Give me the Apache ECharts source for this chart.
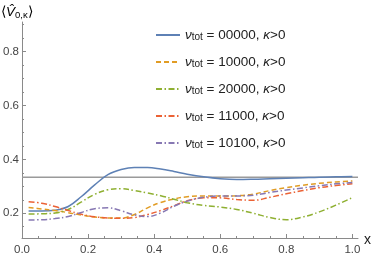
<!DOCTYPE html>
<html><head><meta charset="utf-8">
<script src="https://cdn.jsdelivr.net/npm/echarts@6/dist/echarts.min.js"></script>
<style>html,body{margin:0;padding:0;background:#fff}#c{width:374px;height:257px}</style>
</head><body><div id="c"></div>
<script>
const xValues = [0.02,0.06,0.10,0.14,0.18,0.22,0.26,0.30,0.34,0.38,0.42,0.46,0.50,0.55,0.60,0.65,0.70,0.75,0.80,0.85,0.90,0.95,1.00];
const v00000 = [0.208,0.208,0.211,0.225,0.262,0.305,0.343,0.362,0.370,0.370,0.364,0.355,0.345,0.335,0.328,0.325,0.326,0.328,0.330,0.332,0.334,0.335,0.336];
const v10000 = [0.221,0.216,0.210,0.202,0.193,0.186,0.182,0.182,0.195,0.220,0.240,0.253,0.261,0.264,0.264,0.265,0.271,0.284,0.295,0.304,0.311,0.316,0.320];
const v20000 = [0.197,0.198,0.201,0.214,0.242,0.270,0.287,0.291,0.284,0.275,0.265,0.252,0.239,0.229,0.223,0.214,0.200,0.184,0.176,0.186,0.205,0.230,0.258];
const v11000 = [0.243,0.237,0.225,0.210,0.196,0.187,0.182,0.181,0.184,0.195,0.210,0.228,0.246,0.257,0.257,0.251,0.248,0.259,0.272,0.284,0.295,0.303,0.309];
const v10100 = [0.175,0.176,0.180,0.188,0.203,0.217,0.220,0.209,0.194,0.188,0.201,0.226,0.245,0.259,0.264,0.264,0.267,0.277,0.286,0.294,0.302,0.309,0.314];
const seriesNames = ['00000','10000','20000','11000','10100'];
const seriesValues = [v00000, v10000, v20000, v11000, v10100];
const xTickLabels = [0, 0.2, 0.4, 0.6, 0.8, 1.0];
const xMinorTicks = [0.05,0.1,0.15,0.25,0.3,0.35,0.45,0.5,0.55,0.65,0.7,0.75,0.85,0.9,0.95];
const yTickLabels = [0.2, 0.4, 0.6, 0.8];
const yMinorTicks = [0.15,0.25,0.3,0.35,0.45,0.5,0.55,0.65,0.7,0.75,0.85,0.9];
const refLevel = 1/3;

const colors = ['#5E81B5','#E19C24','#8FB032','#EB6235','#8778B3'];
const dashes = ['solid',[5,3],[6,2.5,1.5,2.5],[6,2.5,1.5,2.5],[6,2.5,1.5,2.5]];
const FONT = 'Liberation Sans';
const X_MIN = 0, X_MAX = 1.017, Y_MIN = 0.108, Y_MAX = 0.91;
const axisCol = '#8a8a8a';

const chart = echarts.init(document.getElementById('c'), null, {renderer:'canvas'});

const series = seriesNames.map((n, i) => ({
  name: n, type: 'line', smooth: 0.4, symbol: 'none', xAxisIndex: 0, yAxisIndex: 0,
  data: xValues.map((x, j) => [x, seriesValues[i][j]]),
  lineStyle: {color: colors[i], width: 1.5, type: dashes[i]},
  itemStyle: {color: colors[i]}, z: 3
}));
series.unshift({
  name: 'ref', type: 'line', symbol: 'none', silent: true,
  data: [[X_MIN, refLevel], [X_MAX, refLevel]],
  lineStyle: {color: '#9a9a9a', width: 1.5}, z: 2
});

const richLegend = {
  v: {fontFamily: FONT, fontSize: 13.5, fontStyle: 'italic', lineHeight: 14, color: '#222'},
  s: {fontFamily: FONT, fontSize: 10, lineHeight: 8, color: '#222', verticalAlign: 'bottom'},
  t: {fontFamily: FONT, fontSize: 13.5, lineHeight: 14, color: '#222'},
  k: {fontFamily: FONT, fontSize: 13.5, fontStyle: 'italic', lineHeight: 14, color: '#222'}
};

chart.setOption({
  animation: false,
  backgroundColor: '#fff',
  grid: {left: 19, right: 16, top: 22, bottom: 19, containLabel: false},
  xAxis: [{
    type: 'value', min: X_MIN, max: X_MAX, position: 'bottom',
    axisLine: {onZero: false, lineStyle: {color: axisCol, width: 1}},
    axisTick: {inside: true, length: 4, customValues: xTickLabels, lineStyle: {color: axisCol}},
    axisLabel: {customValues: xTickLabels, formatter: v => v.toFixed(1), margin: 6,
      fontFamily: FONT, fontSize: 11.5, color: '#444'},
    splitLine: {show: false}
  }, {
    type: 'value', min: X_MIN, max: X_MAX, position: 'bottom',
    axisLine: {show: false, onZero: false},
    axisTick: {inside: true, length: 2, customValues: xMinorTicks, lineStyle: {color: axisCol}},
    axisLabel: {show: false}, splitLine: {show: false}
  }],
  yAxis: [{
    type: 'value', min: Y_MIN, max: Y_MAX, position: 'left',
    axisLine: {show: true, onZero: false, lineStyle: {color: axisCol, width: 1}},
    axisTick: {show: true, inside: true, length: 4, customValues: yTickLabels, lineStyle: {color: axisCol}},
    axisLabel: {customValues: yTickLabels, formatter: v => v.toFixed(1), margin: 3,
      fontFamily: FONT, fontSize: 11.5, color: '#444'},
    splitLine: {show: false}
  }, {
    type: 'value', min: Y_MIN, max: Y_MAX, position: 'left',
    axisLine: {show: false, onZero: false},
    axisTick: {show: true, inside: true, length: 2, customValues: yMinorTicks, lineStyle: {color: axisCol}},
    axisLabel: {show: false}, splitLine: {show: false}
  }],
  legend: {
    orient: 'vertical', left: 155, top: 28, padding: 0, itemWidth: 24, itemHeight: 14, itemGap: 13,
    data: seriesNames, selectedMode: false,
    itemStyle: {opacity: 0},
    formatter: n => '{v|ν}{s|tot}{t| = ' + n + ', }{k|κ}{t|>0}',
    textStyle: {rich: richLegend, lineHeight: 14}
  },
  graphic: [{
    type: 'text', left: 1, top: 5,
    style: {
      text: '{a|⟨}{v|V\u0302}{s|0,κ}{a|⟩}',
      rich: {
        a: {fontFamily: FONT, fontSize: 13.5, color: '#222', lineHeight: 16},
        v: {fontFamily: FONT, fontSize: 13.5, fontStyle: 'italic', color: '#222', lineHeight: 16},
        s: {fontFamily: FONT, fontSize: 9.5, color: '#222', lineHeight: 9, verticalAlign: 'bottom'}
      }
    }
  }, {
    type: 'text', left: 364, top: 233,
    style: {text: 'x', fontFamily: FONT, fontSize: 14, fill: '#222'}
  }],
  series: series
});
</script></body></html>
